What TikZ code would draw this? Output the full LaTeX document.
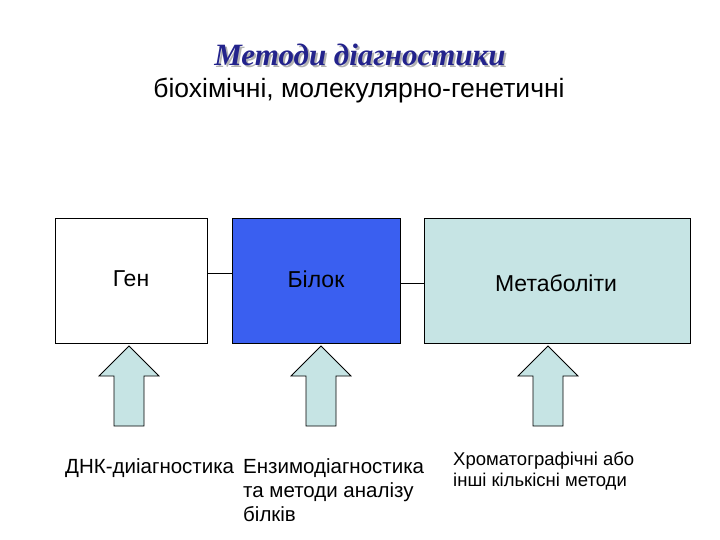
\documentclass[tikz,border=0pt]{standalone}
\usepackage{fontspec}
\setmainfont{Liberation Sans}
\newfontfamily\titlefont{Liberation Serif}
\definecolor{tblue}{HTML}{23238C}
\definecolor{bblue}{HTML}{3A5FF0}
\definecolor{lcyan}{HTML}{C6E4E4}
\begin{document}
\begin{tikzpicture}[x=1pt,y=-1pt,
  box/.style={draw=black,line width=0.6pt},
  uparrow/.style={draw=black,fill=lcyan,line width=0.8pt},
  lab/.style={font=\fontsize{20.5}{24}\selectfont,anchor=north west,align=left,inner sep=0pt}]
\useasboundingbox (0,0) rectangle (720,540);
\node[font=\titlefont\bfseries\itshape\fontsize{31}{34}\selectfont,text=gray!60] at (362,57) {Методи діагностики};
\node[font=\titlefont\bfseries\itshape\fontsize{31}{34}\selectfont,text=tblue] (t) at (360,55) {Методи діагностики};
\node[font=\fontsize{26.5}{30}\selectfont] (s) at (359,91) {біохімічні, молекулярно-генетичні};
\draw[box,fill=white] (55,218) rectangle (207,343);
\node[font=\fontsize{23}{26}\selectfont] (g) at (131,279) {Ген};
\draw[box,fill=bblue] (232,218) rectangle (400,343);
\node[font=\fontsize{23}{26}\selectfont] (b) at (316,279) {Білок};
\draw[box,fill=lcyan] (424,218) rectangle (690,343);
\node[font=\fontsize{23}{26}\selectfont] (m) at (556,283) {Метаболіти};
\coordinate (g1) at (207,273); \coordinate (b1) at (232,273);
\coordinate (b2) at (400,283); \coordinate (m1) at (424,283);
\draw[line width=0.6pt] (g1) -- (b1);
\draw[line width=0.6pt] (b2) -- (m1);
\foreach \cx in {129,321,548}{
  \draw[uparrow] (\cx,346) -- (\cx+30,376) -- (\cx+15,376) -- (\cx+15,426) -- (\cx-15,426) -- (\cx-15,376) -- (\cx-30,376) -- cycle;
}
\node[lab] (d1) at (65,458) {ДНК-диіагностика};
\node[lab] (d2) at (243,458) {Ензимодіагностика\\та методи аналізу\\білків};
\node[lab,font=\fontsize{18.5}{21}\selectfont] (d3) at (453,452) {Хроматографічні  або\\інші кількісні методи};
\end{tikzpicture}
\end{document}
